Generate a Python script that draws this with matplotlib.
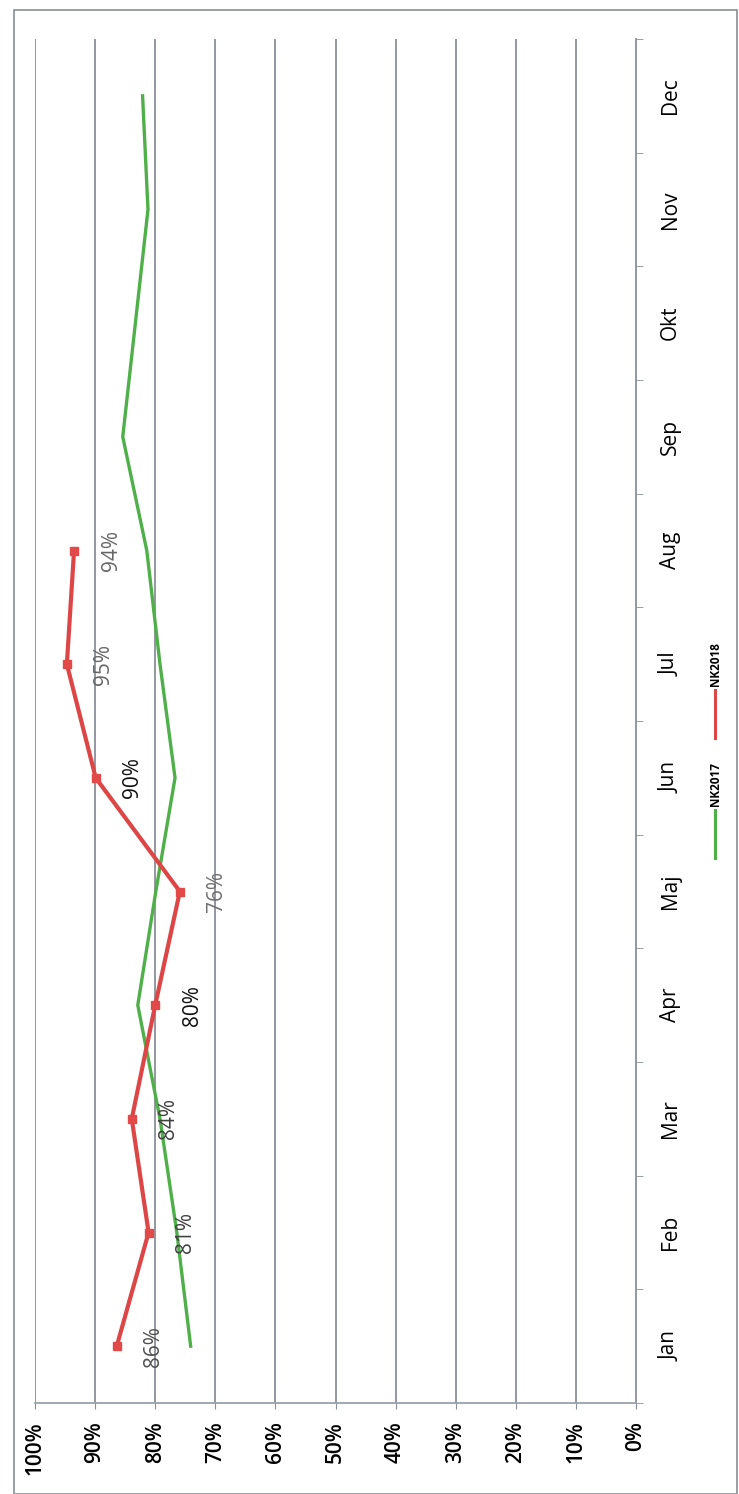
import matplotlib
matplotlib.use("Agg")
import matplotlib.pyplot as plt
from matplotlib.patches import Rectangle

months = ["Jan", "Feb", "Mar", "Apr", "Maj", "Jun", "Jul", "Aug", "Sep", "Okt", "Nov", "Dec"]
nk2017 = [0.741, 0.764, 0.792, 0.829, 0.799, 0.767, 0.792, 0.814, 0.854, 0.833, 0.812, 0.821]
nk2018 = [0.864, 0.811, 0.839, 0.80, 0.759, 0.899, 0.947, 0.935]
nk2018_labels = ["86%", "81%", "84%", "80%", "76%", "90%", "95%", "94%"]
label_colors = ["#505050", "#404040", "#404040", "#111111", "#707070", "#111111", "#666666", "#666666"]
pct_ticks = [0.0, 0.1, 0.2, 0.3, 0.4, 0.5, 0.6, 0.7, 0.8, 0.9, 1.0]
pct_labels = ["0%", "10%", "20%", "30%", "40%", "50%", "60%", "70%", "80%", "90%", "100%"]

plt.rcParams["font.family"] = ["Open Sans", "DejaVu Sans"]

W, H = 739, 1494
fig = plt.figure(figsize=(W / 100, H / 100), dpi=100)
ax = fig.add_axes([35 / W, 1 - 1403 / H, (636 - 35) / W, (1403 - 39) / H])

# the chart is printed sideways: value runs right-to-left, months bottom-to-top
ax.set_xlim(1.0, 0.0)
ax.set_ylim(-0.5, len(months) - 0.5)

for v in pct_ticks[1:]:
    ax.axvline(v, color="#8a9099", lw=1.3, zorder=1)

y17 = list(range(len(nk2017)))
y18 = list(range(len(nk2018)))
ax.plot(nk2017, y17, color="#4fb04a", lw=2.4, zorder=3, label="NK2017")
ax.plot(nk2018, y18, color="#dd4646", lw=3.0, marker="s", ms=6,
        mfc="#e24a4a", mec="#e24a4a", zorder=4, label="NK2018")

for v, y, txt, c in zip(nk2018, y18, nk2018_labels, label_colors):
    ax.annotate(txt, (v, y), xytext=(37, 0), textcoords="offset pixels",
                rotation=90, ha="center", va="center", fontsize=15, color=c, zorder=5)

# percent axis (original y-axis), now along the bottom
ax.set_xticks(pct_ticks)
ax.set_xticklabels(pct_labels, rotation=90, fontsize=15, fontweight="semibold")
ax.tick_params(axis="x", direction="out", length=4, color="#8a9099", pad=9)
for lab in ax.get_xticklabels():
    lab.set_va("top")

# month axis (original x-axis), now along the right
ax.yaxis.tick_right()
ax.set_yticks(range(len(months)))
ax.set_yticklabels(months, rotation=90, fontsize=15, fontweight="medium", va="center")
ax.tick_params(axis="y", which="major", length=0, pad=17)
ax.set_yticks([i - 0.5 for i in range(len(months) + 1)], minor=True)
ax.tick_params(axis="y", which="minor", direction="out", length=5, color="#8a9099")

for side in ["top", "left"]:
    ax.spines[side].set_visible(False)
ax.spines["right"].set_color("#8a9099")
ax.spines["right"].set_linewidth(1.3)
ax.spines["bottom"].set_color("#9aa0a8")
ax.spines["bottom"].set_linewidth(1.3)

# legend (rotated too), placed under the month labels
leg = [("NK2017", "#4fb04a", 858), ("NK2018", "#dd4646", 738)]
for name, col, ybot in leg:
    fig.add_artist(plt.Line2D([715 / W, 715 / W], [1 - ybot / H, 1 - (ybot - 48) / H],
                              color=col, lw=2.2, transform=fig.transFigure))
    fig.text(715 / W, 1 - (ybot - 52) / H, name, rotation=90, ha="center", va="bottom",
             fontsize=8.5, fontweight="bold")

# outer chart frame from the scan
fig.add_artist(Rectangle((14 / W, 0), (737 - 14) / W, 1 - 10 / H, transform=fig.transFigure,
                         fill=False, edgecolor="#8a8f96", lw=1.2))

fig.savefig("out.png", dpi=100)
